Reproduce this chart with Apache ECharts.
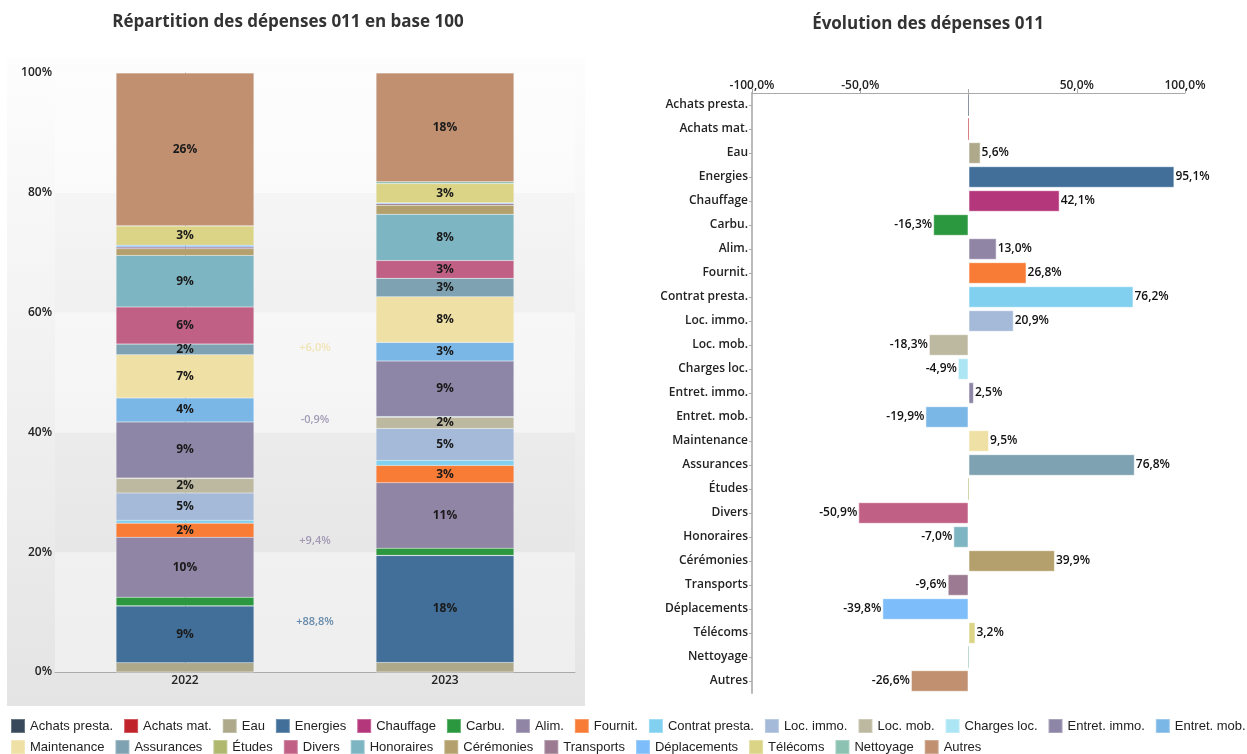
<!DOCTYPE html>
<html><head><meta charset="utf-8">
<script src="https://cdn.jsdelivr.net/npm/echarts@6/dist/echarts.min.js"></script>
<style>html,body{margin:0;padding:0;background:#fff}#c{width:1247px;height:754px}</style>
</head><body><div id="c"></div>
<script>
const categories = ['Achats presta.','Achats mat.','Eau','Energies','Chauffage','Carbu.','Alim.','Fournit.','Contrat presta.','Loc. immo.','Loc. mob.','Charges loc.','Entret. immo.','Entret. mob.','Maintenance','Assurances','Études','Divers','Honoraires','Cérémonies','Transports','Déplacements','Télécoms','Nettoyage','Autres'];
const colors = ['#37495a','#c1232b','#ada98a','#416f99','#b4377c','#2b973e','#9185a6','#f87b36','#81d0f0','#a5bad8','#bdb9a0','#ace6f5','#8d86a6','#7bb7e6','#efe0a5','#7ea2b1','#b0b870','#c16085','#7eb5c2','#b4a06c','#9c7b92','#7dbdfa','#dbd487','#8bc2b1','#c09070'];
const years = ['2022','2023'];
const share2022 = [0,0,1.55,9.45,0.05,1.45,10.0,2.35,0.5,4.55,2.4,0.1,9.35,4.0,7.2,1.8,0,6.2,8.6,1.1,0.3,0.3,3.2,0.05,25.5];
const share2023 = [0,0,1.59,17.84,0.07,1.17,10.93,2.88,0.85,5.32,1.9,0.09,9.27,3.1,7.63,3.09,0,2.95,7.74,1.49,0.26,0.17,3.2,0.3,18.16];
const evolution = [0,0,5.6,95.1,42.1,-16.3,13.0,26.8,76.2,20.9,-18.3,-4.9,2.5,-19.9,9.5,76.8,0,-50.9,-7.0,39.9,-9.6,-39.8,3.2,0,-26.6];
const shareChangeNames = ['Energies','Alim.','Entret. immo.','Maintenance'];
const shareChangeValues = [88.8, 9.4, -0.9, 6.0];
const xTicks = [-100,-50,0,50,100];

const fmt = v => v.toFixed(1).replace('.', ',');
const FONT = 'Open Sans';

function hexA(hex, a) {
  const n = parseInt(hex.slice(1), 16);
  return 'rgba(' + (n >> 16) + ',' + ((n >> 8) & 255) + ',' + (n & 255) + ',' + a + ')';
}

const series = [];
categories.forEach((c, i) => {
  series.push({
    type: 'bar', name: c, stack: 'total', xAxisIndex: 0, yAxisIndex: 0,
    barWidth: '53%',
    data: [share2022[i], share2023[i]],
    itemStyle: { color: colors[i], borderColor: 'rgba(255,255,255,0.25)', borderWidth: 0.5 },
    label: { show: true, position: 'inside', fontFamily: FONT, fontSize: 12, fontWeight: 'bold', color: '#1a1a1a',
      formatter: p => p.value >= 1.7 ? Math.round(p.value) + '%' : '' },
    emphasis: { disabled: true }
  });
});

// middle share-change labels, placed from the stacked data
function midOf(arr, idx) {
  let s = 0; for (let k = 0; k < idx; k++) s += arr[k];
  return s + arr[idx] / 2;
}
const midData = shareChangeNames.map((n, j) => {
  const i = categories.indexOf(n);
  const y = (midOf(share2022, i) + midOf(share2023, i)) / 2;
  const v = shareChangeValues[j];
  return { value: [0.5, y], label: { formatter: (v >= 0 ? '+' : '') + fmt(v) + '%', color: colors[i] } };
});
series.push({
  type: 'scatter', xAxisIndex: 1, yAxisIndex: 0, symbolSize: 0, silent: true,
  data: midData,
  label: { show: true, position: 'inside', fontFamily: FONT, fontSize: 11, fontWeight: 600 }
});

series.push({
  type: 'bar', name: 'Évolution', xAxisIndex: 2, yAxisIndex: 1,
  barCategoryGap: '10%',
  data: evolution.map((v, i) => ({
    value: v,
    itemStyle: { color: colors[i], borderColor: v === 0 ? hexA(colors[i], 0.35) : 'rgba(255,255,255,0.55)', borderWidth: 1 },
    label: { position: v < 0 ? 'left' : 'right' }
  })),
  label: { show: true, fontFamily: FONT, fontSize: 12, fontWeight: 600, color: '#111', distance: 1,
    formatter: p => p.value === 0 ? '' : fmt(p.value) + '%' },
  emphasis: { disabled: true }
});

const legendText = { fontFamily: 'Liberation Sans', fontSize: 13, color: '#222' };
const option = {
  animation: false,
  backgroundColor: '#ffffff',
  textStyle: { fontFamily: FONT },
  graphic: [{
    type: 'rect', left: 7, top: 58, z: -10, silent: true,
    shape: { width: 578, height: 648 },
    style: { fill: new echarts.graphic.LinearGradient(0, 0, 0, 1, [
      { offset: 0, color: '#fdfdfd' }, { offset: 1, color: '#e4e4e4' }]) }
  }],
  title: [
    { text: 'Répartition des dépenses 011 en base 100', left: 283, top: 9, textAlign: 'center',
      textStyle: { fontFamily: FONT, fontSize: 17, fontWeight: 'bold', color: '#333' } },
    { text: 'Évolution des dépenses 011', left: 923, top: 11, textAlign: 'center',
      textStyle: { fontFamily: FONT, fontSize: 17, fontWeight: 'bold', color: '#333' } }
  ],
  legend: [
    { data: categories.slice(0, 14), left: 10, top: 718, padding: 0, icon: 'rect', itemWidth: 14, itemHeight: 14, itemGap: 10,
      selectedMode: false, textStyle: legendText },
    { data: categories.slice(14), left: 10, top: 739, padding: 0, icon: 'rect', itemWidth: 14, itemHeight: 14, itemGap: 10,
      selectedMode: false, textStyle: legendText }
  ],
  grid: [
    { left: 55, right: 672, top: 73, bottom: 82 },
    { left: 752, right: 62, top: 93, bottom: 61 }
  ],
  xAxis: [
    { type: 'category', gridIndex: 0, data: years,
      axisLine: { lineStyle: { color: '#aaa' } }, axisTick: { show: false },
      axisLabel: { fontFamily: FONT, fontSize: 12, fontWeight: 600, color: '#222', margin: 3 } },
    { type: 'value', gridIndex: 0, min: -0.5, max: 1.5, show: false },
    { type: 'value', gridIndex: 1, position: 'top', min: -100, max: 100, interval: 50,
      axisLine: { show: true, onZero: false, lineStyle: { color: '#aaa' } },
      axisTick: { show: true, length: 4, lineStyle: { color: '#aaa' } },
      splitLine: { show: false },
      axisLabel: { fontFamily: FONT, fontSize: 12, fontWeight: 600, color: '#222', margin: 1,
        formatter: v => xTicks.includes(v) && v !== 0 ? fmt(v) + '%' : '' } }
  ],
  yAxis: [
    { type: 'value', gridIndex: 0, min: 0, max: 100, interval: 20,
      axisLine: { show: true, lineStyle: { color: '#aaa' } }, axisTick: { show: false },
      splitLine: { show: false },
      splitArea: { show: true, areaStyle: { color: ['rgba(255,255,255,0.35)', 'rgba(0,0,0,0.012)'] } },
      axisLabel: { fontFamily: FONT, fontSize: 12, fontWeight: 600, color: '#222', margin: 3, formatter: '{value}%' } },
    { type: 'category', gridIndex: 1, data: categories, inverse: true,
      axisLine: { show: true, onZero: false, lineStyle: { color: '#bbb', width: 2 } },
      axisTick: { show: true, length: 3, alignWithLabel: true, lineStyle: { color: '#aaa' } },
      axisLabel: { fontFamily: FONT, fontSize: 12, fontWeight: 600, color: '#222', margin: 4 } }
  ],
  series: series
};
const chart = echarts.init(document.getElementById('c'));
chart.setOption(option);
</script></body></html>
